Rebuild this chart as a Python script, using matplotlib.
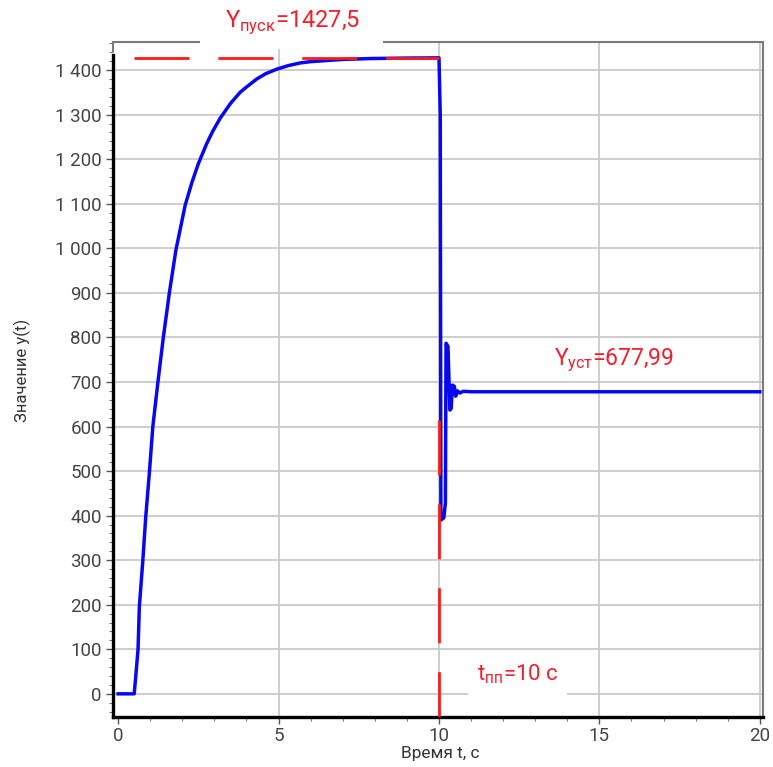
import matplotlib
matplotlib.use("Agg")
import matplotlib.pyplot as plt
from matplotlib.patches import Rectangle
from matplotlib.ticker import MultipleLocator

plt.rcParams['font.family'] = ['Roboto', 'DejaVu Sans']
plt.rcParams['mathtext.fontset'] = 'dejavusans'

# ---- data ----
t_vals = [0.0, 0.5, 0.55, 0.62, 0.66, 0.77, 0.86, 0.975, 1.08, 1.24, 1.41, 1.60,
          1.80, 2.09, 2.30, 2.50, 2.76, 2.95, 3.18, 3.50, 3.80, 4.00, 4.32, 4.60,
          4.94, 5.30, 5.67, 6.0, 6.6, 7.0, 7.9,
          9.0, 10.0, 10.04, 10.06, 10.15, 10.20, 10.22, 10.28, 10.34, 10.38,
          10.42, 10.48, 10.52, 10.58, 10.65, 10.75, 11.0, 20.0]
y_vals = [0, 0, 40, 100, 195, 300, 397, 498, 599, 700, 801, 902,
          996, 1097, 1148, 1190, 1235, 1263, 1292, 1325, 1350, 1362, 1380, 1392,
          1402, 1410, 1416, 1419, 1422, 1424, 1426,
          1427, 1427.5, 1300, 390, 395, 428, 787, 780, 637, 640,
          693, 690, 668, 680, 675, 679, 678, 678]

y_start = 1427.5        # Y пуск
y_ust = 677.99          # Y уст
t_pp = 10               # t пп
t_resp_start = 0.5      # start of the response
t_line_top = 615        # upper end of the t_pp marker line

x_ticks = [0, 5, 10, 15, 20]
x_tick_labels = ['0', '5', '10', '15', '20']
y_ticks = [0, 100, 200, 300, 400, 500, 600, 700, 800, 900, 1000, 1100, 1200, 1300, 1400]
y_tick_labels = ['0', '100', '200', '300', '400', '500', '600', '700', '800', '900',
                 '1 000', '1 100', '1 200', '1 300', '1 400']

label_start = r'Y$_{\mathregular{пуск}}$=1427,5'
label_ust = r'Y$_{\mathregular{уст}}$=677,99'
label_tpp = r't$_{\mathregular{пп}}$=10 с'
xlabel = 'Время t, с'
ylabel = 'Значение y(t)'

RED = '#ff1a1a'
TXT_RED = '#f0202e'
BLUE = '#0808f0'
GRID = '#c9c9c9'

fig = plt.figure(figsize=(7.73, 7.67), dpi=100)
ax = fig.add_axes([0.1462, 0.0652, 0.8409, 0.8800])
ax.set_xlim(-0.16, 20.1)
ax.set_ylim(-52, 1463)

# grid (no vertical line at 0)
for v in y_ticks:
    ax.axhline(v, color=GRID, lw=1.3, zorder=1)
for v in x_ticks[1:]:
    ax.axvline(v, color=GRID, lw=1.3, zorder=1)

# response
ax.plot(t_vals, y_vals, color=BLUE, lw=2.5, zorder=3, solid_joinstyle='round')

# red dashed markers
ax.plot([t_resp_start, t_pp], [y_start, y_start], color=RED, lw=2.0,
        dashes=(19.8, 10.4), zorder=4)
ax.plot([t_pp, t_pp], [t_line_top, -60], color=RED, lw=2.0,
        dashes=(19.8, 10.4), zorder=4, clip_on=True)

# texts
ax.text(3.33, 1508, label_start, color=TXT_RED, fontsize=17, ha='left',
        va='center', clip_on=False, zorder=5)
ax.text(13.6, 749, label_ust, color=TXT_RED, fontsize=16.5, ha='left',
        va='center', zorder=5)
ax.text(11.18, 43, label_tpp, color=TXT_RED, fontsize=16, ha='left',
        va='center', zorder=3.5,
        bbox=dict(boxstyle='square,pad=0.4', fc='white', ec='none'))

# white gap in the top frame behind the title label
ax.add_patch(Rectangle((0.134, 0.99), 0.281, 0.03, transform=ax.transAxes,
                       facecolor='white', edgecolor='none', zorder=2.6,
                       clip_on=False))

# spines
for s in ['top', 'right']:
    ax.spines[s].set_color('#7a7a7a')
    ax.spines[s].set_linewidth(1.5)
for s in ['left', 'bottom']:
    ax.spines[s].set_color('black')
    ax.spines[s].set_linewidth(2.4)
ax.spines['left'].set_bounds(-52, 1433)
ax.plot([0, 0], [0.987, 1.0], transform=ax.transAxes, color='#7a7a7a',
        lw=1.5, clip_on=False, zorder=2.5)

# ticks
ax.set_xticks(x_ticks)
ax.set_xticklabels(x_tick_labels)
ax.set_yticks(y_ticks)
ax.set_yticklabels(y_tick_labels)
ax.xaxis.set_minor_locator(MultipleLocator(1))
ax.yaxis.set_minor_locator(MultipleLocator(20))
ax.tick_params(axis='both', which='major', direction='out', length=5,
               width=1.0, color='#555555', labelcolor='#444444',
               labelsize=13.5, pad=3)
ax.tick_params(axis='x', which='major', pad=2)
ax.tick_params(axis='both', which='minor', direction='out', length=3,
               width=0.8, color='#777777')

ax.set_xlabel(xlabel, fontsize=12.5, color='#333333')
ax.set_ylabel(ylabel, fontsize=12, color='#333333')
ax.xaxis.set_label_coords(0.503, -0.054)
ax.xaxis.label.set_va('center')
ax.yaxis.set_label_coords(-0.14, 0.514)
ax.yaxis.label.set_va('center')

fig.savefig('out.png', dpi=100, facecolor='white')
